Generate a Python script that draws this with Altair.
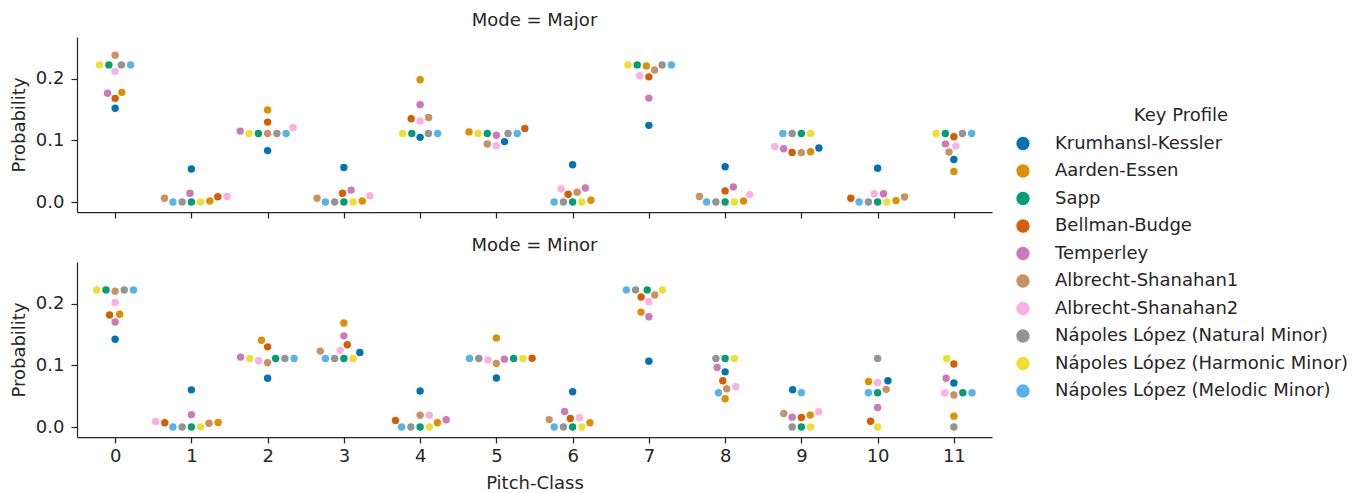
import altair as alt
import numpy as np
import pandas as pd

profiles = [
    "Krumhansl-Kessler", "Aarden-Essen", "Sapp", "Bellman-Budge", "Temperley",
    "Albrecht-Shanahan1", "Albrecht-Shanahan2", "Nápoles López (Natural Minor)",
    "Nápoles López (Harmonic Minor)", "Nápoles López (Melodic Minor)",
]
colors = ["#0173B2", "#DE8F05", "#029E73", "#D55E00", "#CC78BC",
          "#CA9161", "#FBAFE4", "#949494", "#ECE133", "#56B4E9"]
pitch_classes = list(range(12))
modes = ["Major", "Minor"]

# Probabilities per pitch-class (0..11)
kk_major = [0.1520, 0.0534, 0.0833, 0.0558, 0.1048, 0.0979, 0.0603, 0.1242, 0.0572, 0.0876, 0.0548, 0.0689]
ae_major = [0.1777, 0.0015, 0.1493, 0.0016, 0.1980, 0.1136, 0.0029, 0.2206, 0.0015, 0.0815, 0.0023, 0.0495]
sapp_major = [0.2222, 0.0, 0.1111, 0.0, 0.1111, 0.1111, 0.0, 0.2222, 0.0, 0.1111, 0.0, 0.1111]
bb_major = [0.1680, 0.0086, 0.1295, 0.0141, 0.1349, 0.1193, 0.0125, 0.2028, 0.0180, 0.0804, 0.0062, 0.1057]
temp_major = [0.1762, 0.0141, 0.1149, 0.0193, 0.1578, 0.1083, 0.0226, 0.1684, 0.0245, 0.0862, 0.0134, 0.0942]
as1_major = [0.238, 0.006, 0.111, 0.006, 0.137, 0.094, 0.016, 0.214, 0.009, 0.080, 0.008, 0.081]
as2_major = [0.2117, 0.0089, 0.1204, 0.0100, 0.1314, 0.0912, 0.0216, 0.2048, 0.0120, 0.0898, 0.0133, 0.0906]
nln_major = [0.2222, 0.0, 0.1111, 0.0, 0.1111, 0.1111, 0.0, 0.2222, 0.0, 0.1111, 0.0, 0.1111]
nlh_major = [0.2222, 0.0, 0.1111, 0.0, 0.1111, 0.1111, 0.0, 0.2222, 0.0, 0.1111, 0.0, 0.1111]
nlm_major = [0.2222, 0.0, 0.1111, 0.0, 0.1111, 0.1111, 0.0, 0.2222, 0.0, 0.1111, 0.0, 0.1111]

kk_minor = [0.1422, 0.0602, 0.0791, 0.1209, 0.0584, 0.0793, 0.0571, 0.1067, 0.0894, 0.0604, 0.0750, 0.0712]
ae_minor = [0.1826, 0.0074, 0.1405, 0.1686, 0.0070, 0.1444, 0.0070, 0.1862, 0.0457, 0.0193, 0.0738, 0.0176]
sapp_minor = [0.2222, 0.0, 0.1111, 0.1111, 0.0, 0.1111, 0.0, 0.2222, 0.1111, 0.0, 0.0556, 0.0556]
bb_minor = [0.1816, 0.0069, 0.1299, 0.1334, 0.0107, 0.1115, 0.0138, 0.2107, 0.0749, 0.0153, 0.0092, 0.1021]
temp_minor = [0.1702, 0.0201, 0.1133, 0.1477, 0.0117, 0.1100, 0.0251, 0.1786, 0.0966, 0.0160, 0.0318, 0.0789]
as1_minor = [0.220, 0.006, 0.104, 0.123, 0.019, 0.103, 0.012, 0.214, 0.062, 0.022, 0.061, 0.052]
as2_minor = [0.2017, 0.0090, 0.1073, 0.1242, 0.0193, 0.1086, 0.0149, 0.2030, 0.0652, 0.0247, 0.0719, 0.0551]
nln_minor = [0.2222, 0.0, 0.1111, 0.1111, 0.0, 0.1111, 0.0, 0.2222, 0.1111, 0.0, 0.1111, 0.0]
nlh_minor = [0.2222, 0.0, 0.1111, 0.1111, 0.0, 0.1111, 0.0, 0.2222, 0.1111, 0.0, 0.0, 0.1111]
nlm_minor = [0.2222, 0.0, 0.1111, 0.1111, 0.0, 0.1111, 0.0, 0.2222, 0.0556, 0.0556, 0.0556, 0.0556]

series = {
    "Major": [kk_major, ae_major, sapp_major, bb_major, temp_major,
              as1_major, as2_major, nln_major, nlh_major, nlm_major],
    "Minor": [kk_minor, ae_minor, sapp_minor, bb_minor, temp_minor,
              as1_minor, as2_minor, nln_minor, nlh_minor, nlm_minor],
}

# ---- layout constants ----
W, H = 915, 175
X_DOM = [-0.5, 11.5]
Y_DOM = [-0.0162, 0.2674]
PX_X = W / (X_DOM[1] - X_DOM[0])
PX_Y = H / (Y_DOM[1] - Y_DOM[0])
D = 8.8  # point diameter (px) used for the swarm layout


def swarm_offsets(vals):
    """Beeswarm (seaborn-style) horizontal offsets in pixels."""
    ys = np.asarray(vals, float) * PX_Y
    order = np.argsort(ys, kind="stable")
    placed = []
    out = np.zeros(len(vals))
    for i in order:
        y = ys[i]
        if not placed:
            placed.append((0.0, y))
            out[i] = 0.0
            continue
        neigh = []
        for xj, yj in reversed(placed):
            if y - yj < D:
                neigh.append((xj, yj))
            else:
                break
        neigh = neigh[::-1]
        cands = [0.0]
        left_first = True
        for xj, yj in neigh:
            dy = y - yj
            dx = np.sqrt(max(D ** 2 - dy ** 2, 0)) * 1.05
            cl, cr = xj - dx, xj + dx
            cands.extend([cl, cr] if left_first else [cr, cl])
            left_first = not left_first
        cands = sorted(cands, key=abs)
        chosen = cands[0]
        if neigh:
            for c in cands:
                if all((xj - c) ** 2 + (yj - y) ** 2 >= D ** 2 - 1e-9 for xj, yj in neigh):
                    chosen = c
                    break
        placed.append((chosen, y))
        out[i] = chosen
    return out


rows = []
for mode in modes:
    mat = series[mode]
    for pc in pitch_classes:
        vals = [mat[k][pc] for k in range(len(profiles))]
        offs = swarm_offsets(vals)
        for k, prof in enumerate(profiles):
            rows.append({"Mode": mode, "Pitch-Class": pc, "Key Profile": prof,
                         "Probability": vals[k], "xpos": pc + offs[k] / PX_X})
df = pd.DataFrame(rows)

TXT = "#262626"
FS = 18


def panel(mode, bottom):
    xaxis = alt.Axis(values=pitch_classes, format="d", labels=bottom,
                     title="Pitch-Class" if bottom else None, grid=False)
    return alt.Chart(df[df["Mode"] == mode]).mark_circle(size=55, opacity=1).encode(
        x=alt.X("xpos:Q", scale=alt.Scale(domain=X_DOM, nice=False, zero=False), axis=xaxis),
        y=alt.Y("Probability:Q", scale=alt.Scale(domain=Y_DOM, nice=False, zero=False),
                axis=alt.Axis(values=[0.0, 0.1, 0.2], format=".1f", title="Probability", grid=False)),
        color=alt.Color("Key Profile:N", scale=alt.Scale(domain=profiles, range=colors),
                        legend=alt.Legend(orient="none", legendX=937, legendY=70,
                                          title="Key Profile", titleAnchor="middle", titleAlign="center",
                                          symbolType="circle", symbolSize=177, symbolStrokeWidth=0,
                                          symbolOpacity=1, labelOffset=23, rowPadding=9.5,
                                          titlePadding=9.5, labelLimit=500)),
        tooltip=["Key Profile:N", "Pitch-Class:O", "Probability:Q"],
    ).properties(width=W, height=H,
                 title=alt.TitleParams(f"Mode = {mode}", fontSize=FS, fontWeight="normal",
                                       color=TXT, anchor="middle", offset=7))


chart = alt.vconcat(panel("Major", False), panel("Minor", True), spacing=50, bounds="flush").properties(
    padding={"left": 2, "top": 4, "right": 0, "bottom": 0}
).configure(font="DejaVu Sans").configure_view(stroke=None).configure_axis(
    domainColor=TXT, tickColor=TXT, labelColor=TXT, titleColor=TXT,
    labelFontSize=FS, titleFontSize=FS, titleFontWeight="normal",
    tickSize=6, domainWidth=1.25, tickWidth=1.25, labelPadding=4
).configure_axisY(titlePadding=7, labelPadding=7).configure_axisX(titlePadding=9).configure_legend(
    labelFontSize=FS, titleFontSize=FS, titleFontWeight="normal",
    labelColor=TXT, titleColor=TXT
)

chart.save("out.html", embed_options={"renderer": "svg", "actions": False})
